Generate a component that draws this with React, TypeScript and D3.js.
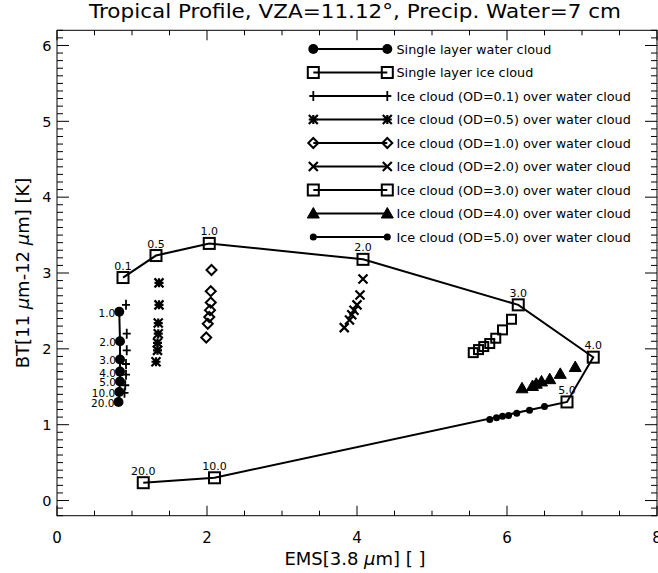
import React, { useEffect } from "react";
import * as d3 from "d3";

const iceOD = ["0.1", "0.5", "1.0", "2.0", "3.0", "4.0", "5.0", "10.0", "20.0"];
const iceX = [0.88, 1.32, 2.03, 4.08, 6.15, 7.15, 6.8, 2.1, 1.15];
const iceY = [2.94, 3.23, 3.39, 3.18, 2.58, 1.89, 1.3, 0.3, 0.235];

const waterOD = ["1.0", "2.0", "3.0", "4.0", "5.0", "10.0", "20.0"];
const waterX = [0.83, 0.84, 0.84, 0.84, 0.84, 0.83, 0.82];
const waterY = [2.49, 2.1, 1.86, 1.7, 1.57, 1.43, 1.3];

const od01X = [0.92, 0.93, 0.93, 0.92, 0.92, 0.91, 0.9];
const od01Y = [2.58, 2.2, 1.98, 1.8, 1.66, 1.52, 1.42];
const od05X = [1.36, 1.36, 1.35, 1.35, 1.34, 1.34, 1.32];
const od05Y = [2.87, 2.58, 2.34, 2.2, 2.08, 1.98, 1.83];
const od1X = [2.06, 2.05, 2.05, 2.04, 2.03, 2.01, 1.99];
const od1Y = [3.04, 2.76, 2.61, 2.51, 2.42, 2.33, 2.15];
const od2X = [4.08, 4.04, 4.0, 3.96, 3.93, 3.9, 3.83];
const od2Y = [2.92, 2.71, 2.58, 2.51, 2.45, 2.38, 2.28];
const od3X = [6.06, 5.94, 5.85, 5.77, 5.69, 5.62, 5.55];
const od3Y = [2.39, 2.25, 2.14, 2.07, 2.03, 1.99, 1.95];
const od4X = [6.91, 6.71, 6.57, 6.46, 6.39, 6.34, 6.2];
const od4Y = [1.76, 1.67, 1.6, 1.57, 1.54, 1.51, 1.48];
const od5X = [6.5, 6.3, 6.13, 6.02, 5.94, 5.86, 5.77];
const od5Y = [1.24, 1.19, 1.15, 1.12, 1.11, 1.09, 1.07];

const legendLabels = [
  "Single layer water cloud",
  "Single layer ice cloud",
  "Ice cloud (OD=0.1) over water cloud",
  "Ice cloud (OD=0.5) over water cloud",
  "Ice cloud (OD=1.0) over water cloud",
  "Ice cloud (OD=2.0) over water cloud",
  "Ice cloud (OD=3.0) over water cloud",
  "Ice cloud (OD=4.0) over water cloud",
  "Ice cloud (OD=5.0) over water cloud",
];
const legendMarkers = ["circle", "square", "plus", "asterisk", "diamond", "cross", "square", "triangle", "smallcircle"];

const xTicks = [0, 2, 4, 6, 8];
const yTicks = [0, 1, 2, 3, 4, 5, 6];

const FONT = "DejaVu Sans, sans-serif";

const W = 658, H = 573;
const L = 57, R = 657, T = 30.3, B = 515.7;
const x = d3.scaleLinear().domain([0, 8]).range([L, R]);
const y = d3.scaleLinear().domain([-0.2, 6.2]).range([B, T]);

function Marker({ type, cx, cy, big }: { type: string; cx: number; cy: number; big?: boolean }) {
  const sw = 2;
  switch (type) {
    case "circle":
      return <circle cx={cx} cy={cy} r={5} fill="#000" />;
    case "smallcircle":
      return <circle cx={cx} cy={cy} r={3.5} fill="#000" />;
    case "square": {
      const s = big ? 11 : 9;
      return <rect x={cx - s / 2} y={cy - s / 2} width={s} height={s} fill="none" stroke="#000" strokeWidth={sw} />;
    }
    case "plus": {
      const s = 5;
      return (
        <path d={`M${cx},${cy - s}L${cx},${cy + s}M${cx - 4},${cy}L${cx + 4},${cy}`} stroke="#000" strokeWidth={1.8} fill="none" />
      );
    }
    case "asterisk": {
      const s = 4.5;
      return (
        <path
          d={`M${cx},${cy - s}L${cx},${cy + s}M${cx - s},${cy}L${cx + s},${cy}M${cx - s},${cy - s}L${cx + s},${cy + s}M${cx - s},${cy + s}L${cx + s},${cy - s}`}
          stroke="#000"
          strokeWidth={2.2}
          fill="none"
        />
      );
    }
    case "diamond": {
      const s = 5;
      return (
        <path d={`M${cx},${cy - s}L${cx + s},${cy}L${cx},${cy + s}L${cx - s},${cy}Z`} stroke="#000" strokeWidth={2} fill="none" />
      );
    }
    case "cross": {
      const s = 4.5;
      return (
        <path d={`M${cx - s},${cy - s}L${cx + s},${cy + s}M${cx - s},${cy + s}L${cx + s},${cy - s}`} stroke="#000" strokeWidth={2.2} fill="none" />
      );
    }
    case "triangle": {
      const s = 6;
      return (
        <path d={`M${cx},${cy - s}L${cx + s},${cy + s * 0.75}L${cx - s},${cy + s * 0.75}Z`} fill="#000" stroke="#000" strokeWidth={1} />
      );
    }
  }
  return null;
}

const series = [
  { type: "plus", xs: od01X, ys: od01Y },
  { type: "asterisk", xs: od05X, ys: od05Y },
  { type: "diamond", xs: od1X, ys: od1Y },
  { type: "cross", xs: od2X, ys: od2Y },
  { type: "square", xs: od3X, ys: od3Y },
  { type: "triangle", xs: od4X, ys: od4Y },
  { type: "smallcircle", xs: od5X, ys: od5Y },
];

export default function App() {
  useEffect(() => {
    document.body.style.margin = "0";
  }, []);

  const lineGen = d3.line<[number, number]>().x((d) => x(d[0])).y((d) => y(d[1]));
  const icePath = lineGen(iceX.map((v, i) => [v, iceY[i]] as [number, number]))!;
  const waterPath = lineGen(waterX.map((v, i) => [v, waterY[i]] as [number, number]))!;

  const xMinor = d3.range(0, 8.001, 0.5);
  const yMinor = d3.range(-2, 63).map((v) => v / 10);

  const legY0 = 49;
  const legDY = 23.5;
  const legX1 = 313.3, legX2 = 387.3;

  return (
    <svg width={W} height={H} style={{ position: "absolute", left: 0, top: 0, background: "#fff" }} fontFamily={FONT}>
      <rect x={0} y={0} width={W} height={H} fill="#fff" />
      <rect x={L} y={T} width={R - L} height={B - T} fill="none" stroke="#000" strokeWidth={1} />
      {xMinor.map((v) => {
        const major = xTicks.includes(v);
        const len = major ? 10 : 5;
        return (
          <g key={"xt" + v}>
            <line x1={x(v)} x2={x(v)} y1={B} y2={B - len} stroke="#000" />
            <line x1={x(v)} x2={x(v)} y1={T} y2={T + len} stroke="#000" />
          </g>
        );
      })}
      {yMinor.map((v) => {
        const major = Math.abs(v - Math.round(v)) < 1e-6;
        const len = major ? 12 : 6;
        return (
          <g key={"yt" + v}>
            <line x1={L} x2={L + len} y1={y(v)} y2={y(v)} stroke="#000" />
            <line x1={R} x2={R - len} y1={y(v)} y2={y(v)} stroke="#000" />
          </g>
        );
      })}
      {xTicks.map((v) => (
        <text key={"xl" + v} x={x(v)} y={543} fontSize={15} textAnchor="middle">
          {v}
        </text>
      ))}
      {yTicks.map((v) => (
        <text key={"yl" + v} x={51.5} y={y(v) + 5.3} fontSize={14.5} textAnchor="end">
          {v}
        </text>
      ))}
      <text x={355} y={18} fontSize={20} textAnchor="middle" textLength={532} lengthAdjust="spacingAndGlyphs">
        Tropical Profile, VZA=11.12°, Precip. Water=7 cm
      </text>
      <text x={355} y={565} fontSize={18} textAnchor="middle">
        EMS[3.8 <tspan fontStyle="italic">μ</tspan>m] [ ]
      </text>
      <text transform={`translate(28.5,${(T + B) / 2}) rotate(-90)`} fontSize={18} textAnchor="middle">
        BT[11 <tspan fontStyle="italic">μ</tspan>m-12 <tspan fontStyle="italic">μ</tspan>m] [K]
      </text>

      <path d={icePath} fill="none" stroke="#000" strokeWidth={2} />
      <path d={waterPath} fill="none" stroke="#000" strokeWidth={2} />

      {series.map((s, si) =>
        s.xs.map((v, i) => <Marker key={`s${si}-${i}`} type={s.type} cx={x(v)} cy={y(s.ys[i])} />)
      )}

      {iceX.map((v, i) => (
        <g key={"ice" + i}>
          <Marker type="square" big cx={x(v)} cy={y(iceY[i])} />
          <text x={x(v)} y={y(iceY[i]) - 8} fontSize={11} textAnchor="middle">
            {iceOD[i]}
          </text>
        </g>
      ))}
      {waterX.map((v, i) => (
        <g key={"w" + i}>
          <Marker type="circle" cx={x(v)} cy={y(waterY[i])} />
          <text x={x(v) - 4} y={y(waterY[i]) + 5} fontSize={10.5} textAnchor="end">
            {waterOD[i]}
          </text>
        </g>
      ))}

      {legendLabels.map((lab, i) => {
        const ly = legY0 + i * legDY;
        const t = legendMarkers[i];
        return (
          <g key={"leg" + i}>
            <line x1={legX1} x2={legX2} y1={ly} y2={ly} stroke="#000" strokeWidth={2} />
            <Marker type={t} big={i === 1 || i === 6} cx={legX1} cy={ly} />
            <Marker type={t} big={i === 1 || i === 6} cx={legX2} cy={ly} />
            <text x={396.5} y={ly + 4.5} fontSize={12.8}>
              {lab}
            </text>
          </g>
        );
      })}
    </svg>
  );
}
